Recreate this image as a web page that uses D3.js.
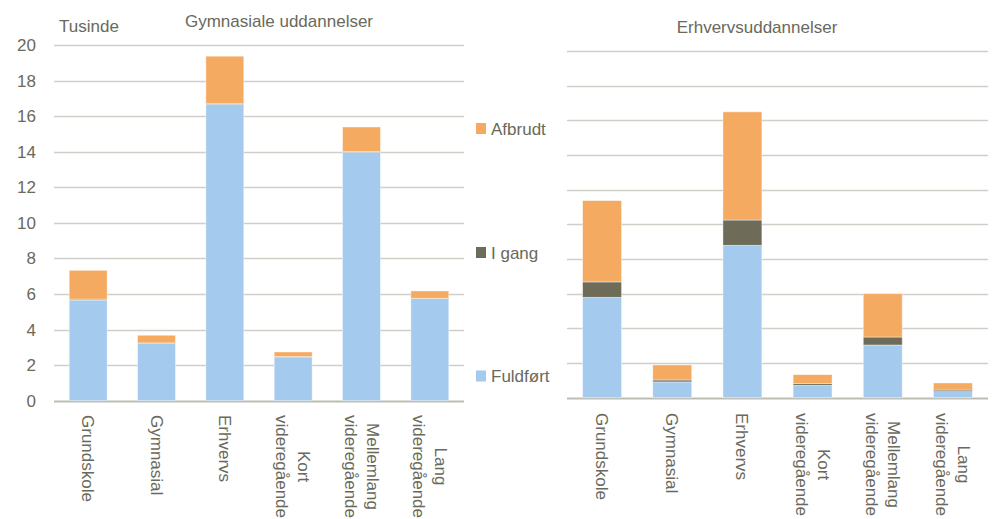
<!DOCTYPE html>
<html>
<head>
<meta charset="utf-8">
<script src="https://cdn.jsdelivr.net/npm/d3@7"></script>
<style>
  body { margin: 0; background: #fff; }
  text { font-family: "Liberation Sans", Arial, sans-serif; fill: #69695c; }
</style>
</head>
<body>
<div id="chart"></div>
<script>
// categories (line breaks in labels split with "|")
const categories = ["Grundskole", "Gymnasial", "Erhvervs", "Kort|videregående", "Mellemlang|videregående", "Lang|videregående"]
const seriesNames = ["Fuldført", "I gang", "Afbrudt"]
const seriesColors = ["#a4caee", "#6e6c59", "#f5aa62"]

// Gymnasiale uddannelser (tusinde)
const gymFuldfort = [5.66, 3.23, 16.67, 2.46, 13.97, 5.74]
const gymIGang = [0.05, 0.02, 0.05, 0.02, 0.05, 0.02]
const gymAfbrudt = [1.62, 0.43, 2.65, 0.26, 1.37, 0.41]

// Erhvervsuddannelser (tusinde)
const erhFuldfort = [5.79, 0.91, 8.79, 0.71, 3.04, 0.35]
const erhIGang = [0.89, 0.11, 1.46, 0.10, 0.46, 0.09]
const erhAfbrudt = [4.69, 0.87, 6.24, 0.52, 2.50, 0.41]

const yTicks = [0, 2, 4, 6, 8, 10, 12, 14, 16, 18, 20]

let svg_width = 998
let svg_height = 519

var svg = d3.select("#chart")
    .append("svg")
    .attr("width", svg_width)
    .attr("height", svg_height);

function buildRows(f, g, a) {
    return categories.map((c, i) => ({ cat: c, "Fuldført": f[i], "I gang": g[i], "Afbrudt": a[i] }))
}

function panel(rows, opt) {
    var xScale = d3.scaleBand()
        .domain(categories)
        .range([opt.x0, opt.x1])
        .paddingInner(0.445)
        .paddingOuter(0.2225);

    var yScale = d3.scaleLinear()
        .domain([0, 20])
        .range([opt.yBottom, opt.yTop]);

    var g = svg.append("g");

    // gridlines
    g.append("g").selectAll("line").data(yTicks)
        .enter().append("line")
        .attr("x1", opt.x0)
        .attr("x2", opt.x1)
        .attr("y1", d => Math.round(yScale(d)) + 0.5)
        .attr("y2", d => Math.round(yScale(d)) + 0.5)
        .style("stroke", d => d == 0 ? "#bdbdb3" : "#cfcfc7")
        .style("stroke-width", d => d == 0 ? "2px" : "1.3px");

    if (opt.showLabels) {
        var yAxis = g.append("g")
            .attr("transform", "translate(" + (opt.x0 - 18) + ",0)")
            .call(d3.axisLeft(yScale).tickValues(yTicks).tickSize(0).tickPadding(0));
        yAxis.select(".domain").remove();
        yAxis.selectAll("text")
            .style("font-size", "17px")
            .style("font-family", "Liberation Sans, Arial, sans-serif")
            .attr("fill", "#69695c");
    }

    var stack = d3.stack().keys(seriesNames)(rows);

    g.append("g").selectAll("g").data(stack)
        .enter().append("g")
        .style("fill", (d, i) => seriesColors[i])
        .selectAll("rect").data(d => d)
        .enter().append("rect")
        .attr("x", d => xScale(d.data.cat))
        .attr("width", xScale.bandwidth())
        .attr("y", d => yScale(d[1]))
        .attr("height", d => yScale(d[0]) - yScale(d[1]))
        .style("stroke", "#ffffff")
        .style("stroke-opacity", 0.5)
        .style("stroke-width", "0.8px");

    // title
    g.append("text")
        .attr("x", opt.titleX)
        .attr("y", opt.titleY)
        .style("text-anchor", "middle")
        .style("font-size", "17px")
        .text(opt.title);

    // rotated category labels
    var lineH = 22;
    var labels = g.append("g").selectAll("g").data(categories)
        .enter().append("g")
        .attr("transform", d => "translate(" + (xScale(d) + xScale.bandwidth() / 2) + "," + opt.labelTop + ") rotate(90)");

    labels.each(function(d) {
        var lines = d.split("|");
        var sel = d3.select(this);
        var texts = lines.map((ln, i) => sel.append("text")
            .attr("y", (i - (lines.length - 1) / 2) * lineH)
            .attr("dy", "0.35em")
            .style("font-size", "17px")
            .style("text-anchor", "middle")
            .text(ln));
        var maxLen = d3.max(texts, t => t.node().getComputedTextLength());
        texts.forEach(t => t.attr("x", maxLen / 2));
    });
}

panel(buildRows(gymFuldfort, gymIGang, gymAfbrudt), {
    x0: 54, x1: 464, yBottom: 400.7, yTop: 45,
    showLabels: true, title: "Gymnasiale uddannelser", titleX: 279, titleY: 27,
    labelTop: 415
});

panel(buildRows(erhFuldfort, erhIGang, erhAfbrudt), {
    x0: 567, x1: 988, yBottom: 397.7, yTop: 51,
    showLabels: false, title: "Erhvervsuddannelser", titleX: 757, titleY: 33,
    labelTop: 413
});

// unit label
svg.append("text")
    .attr("x", 59)
    .attr("y", 32)
    .style("font-size", "17px")
    .text("Tusinde");

// legend
var legendItems = [
    { name: "Afbrudt", color: seriesColors[2], y: 128.5 },
    { name: "I gang", color: seriesColors[1], y: 252.5 },
    { name: "Fuldført", color: seriesColors[0], y: 376 }
];

var legend = svg.append("g").selectAll("g").data(legendItems)
    .enter().append("g")
    .attr("transform", d => "translate(476," + d.y + ")");

legend.append("rect")
    .attr("x", 0)
    .attr("y", -5.5)
    .attr("width", 10)
    .attr("height", 11)
    .style("fill", d => d.color);

legend.append("text")
    .attr("x", 15)
    .attr("dy", "0.36em")
    .style("font-size", "17px")
    .text(d => d.name);
</script>
</body>
</html>
